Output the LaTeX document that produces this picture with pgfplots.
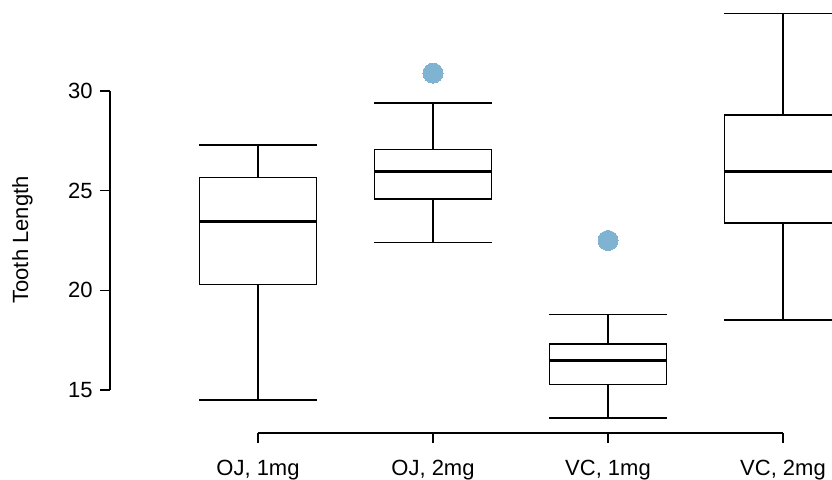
\documentclass[border=0pt]{standalone}
\usepackage{pgfplots}
\pgfplotsset{compat=1.18}
\usepgfplotslibrary{statistics}
\usepackage{fontspec}
\setmainfont{Liberation Sans}
\definecolor{outl}{HTML}{7FB3D1}
\pgfplotsset{mybox/.style={black, draw=black, line width=0.75pt, solid, mark=*, mark size=5pt,
  mark options={fill=outl, draw=outl, line width=0pt}}}
\begin{document}
\begin{tikzpicture}[font=\fontsize{11}{13.2}\selectfont]
\begin{axis}[
  x=87.5pt, y=9.965pt,
  xmin=-0.84571, xmax=3.6, ymin=12.8425, ymax=35,
  axis x line*=bottom, axis y line*=left,
  axis line style={draw=none},
  tick align=outside, major tick length=5pt,
  tick style={black, line width=0.6pt},
  xtick={0,1,2,3}, xticklabels={{OJ, 1mg},{OJ, 2mg},{VC, 1mg},{VC, 2mg}},
  ytick={15,20,25,30},
  /pgf/number format/assume math mode=true,
  tick label style={font=\fontsize{11}{13.2}\selectfont},
  yticklabel style={anchor=east, inner sep=0pt, xshift=-3.5pt},
  xticklabel style={anchor=north, inner sep=0pt, yshift=-8.5pt},
  clip=false,
  boxplot/draw direction=y,
  boxplot/box extend=0.669,
  boxplot/whisker extend=0.669,
  boxplot/every box/.style={draw=black, line width=0.75pt},
  boxplot/every whisker/.style={draw=black, line width=0.75pt},
  boxplot/every median/.style={draw=black, line width=1.6pt},
]
\addplot[mybox, boxplot prepared={draw position=0, lower whisker=14.5, lower quartile=20.3, median=23.45, upper quartile=25.65, upper whisker=27.3}] coordinates {};
\addplot[mybox, boxplot prepared={draw position=1, lower whisker=22.4, lower quartile=24.575, median=25.95, upper quartile=27.075, upper whisker=29.4}] table[row sep=\\, y index=0] {30.9\\};
\addplot[mybox, boxplot prepared={draw position=2, lower whisker=13.6, lower quartile=15.275, median=16.5, upper quartile=17.3, upper whisker=18.8}] table[row sep=\\, y index=0] {22.5\\};
\addplot[mybox, boxplot prepared={draw position=3, lower whisker=18.5, lower quartile=23.375, median=25.95, upper quartile=28.8, upper whisker=33.9}] coordinates {};
\draw[line width=0.6pt] (axis cs:-0.84571,15) -- (axis cs:-0.84571,30);
\draw[line width=0.6pt] (axis cs:0,12.8425) -- (axis cs:3,12.8425);
\node[rotate=90, anchor=base] at (axis cs:-1.314,22.53) {Tooth Length};
\coordinate (tl) at (axis cs:-1.47429,34.568);
\coordinate (br) at (axis cs:3.28,10.534);
\end{axis}
\pgfresetboundingbox
\path[use as bounding box] (tl) rectangle (br);
\end{tikzpicture}
\end{document}
